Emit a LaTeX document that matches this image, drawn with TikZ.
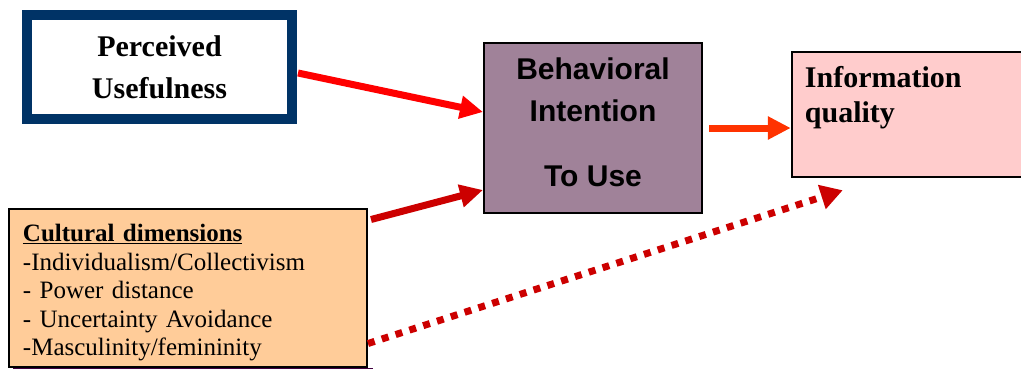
\documentclass[tikz,border=0pt]{standalone}
\usepackage{fontspec}
\setmainfont{Liberation Serif}
\newfontfamily\arialf{Liberation Sans}
\usetikzlibrary{arrows.meta,calc,backgrounds}
\definecolor{navyb}{HTML}{003366}
\definecolor{shd}{HTML}{400040}
\definecolor{mauve}{HTML}{A08299}
\definecolor{pinkf}{HTML}{FFCCCC}
\definecolor{peach}{HTML}{FFCC99}
\definecolor{redA}{HTML}{FF0000}
\definecolor{redB}{HTML}{CC0000}
\definecolor{redC}{HTML}{FF3300}
\tikzset{
  boxa/.style={draw=black, line width=2pt, inner sep=0pt},
  conn/.style={line width=7pt, -{Triangle[length=23pt,width=22pt]}},
}
\newcommand{\shadowof}[2]{\fill[shd] ($(#1.south west)+(#2,#2)$) rectangle ($(#1.north east)+(#2,#2)$);}
\begin{document}
\begin{tikzpicture}[x=1pt,y=-1pt]
\path[use as bounding box, clip] (0,0) rectangle (1021,368);
\fill[white] (0,0) rectangle (1021,368);
% Perceived Usefulness
\node[draw=navyb, line width=10pt, fill=white, minimum width=265pt, minimum height=104pt, inner sep=0pt,
      align=center, font=\bfseries\fontsize{30}{42}\selectfont] (pu) at (159.5,67) {Perceived\\Usefulness};
% Behavioral Intention
\node[boxa, fill=mauve, minimum width=218pt, minimum height=170pt, align=center,
      font=\arialf\bfseries\fontsize{30}{42.5}\selectfont] (bi) at (593,128)
      {Behavioral\\Intention\\[22pt]To Use\rule[-12pt]{0pt}{12pt}};
% Information quality
\node[boxa, line width=2.5pt, fill=pinkf, minimum width=245pt, minimum height=125pt] (iq) at (914.5,114.5) {};
\node[anchor=north west, inner sep=0pt, align=left, font=\bfseries\fontsize{30}{35}\selectfont] (iqt)
      at ($(iq.north west)+(14,15)$) {Information\\quality};
% Cultural dimensions
\node[boxa, fill=peach, text width=330pt, inner xsep=14pt, minimum height=158pt, align=left,
      font=\fontsize{25}{28.5}\selectfont] (cd) at (188,287.5)
      {\rule{0pt}{28pt}\textbf{\underline{Cultural dimensions}}\\
       -Individualism/Collectivism\\
       - Power distance\\
       - Uncertainty Avoidance\\
       -Masculinity/femininity};
\begin{scope}[on background layer]
  \shadowof{pu}{5}
  \shadowof{bi}{6}
  \shadowof{iq}{6}
  \shadowof{cd}{5}
\end{scope}
% connectors
\draw[conn, redA] ($(pu.east)+(1,6)$) -- ($(bi.west)+(0,-16)$);
\draw[conn, redB] ($(cd.north east)+(3,12)$) -- ($(bi.south west)+(0,-24)$);
\draw[conn, redC] ($(bi.east)+(6,0)$) -- (bi.east -| iq.west);
\draw[redB, line width=7pt, dash pattern=on 7pt off 7.5pt, -{Triangle[length=22pt,width=24pt]}]
  ($(cd.south east)+(0,-24)$) -- ($(iq.south west)+(52,12)$);
\end{tikzpicture}
\end{document}
